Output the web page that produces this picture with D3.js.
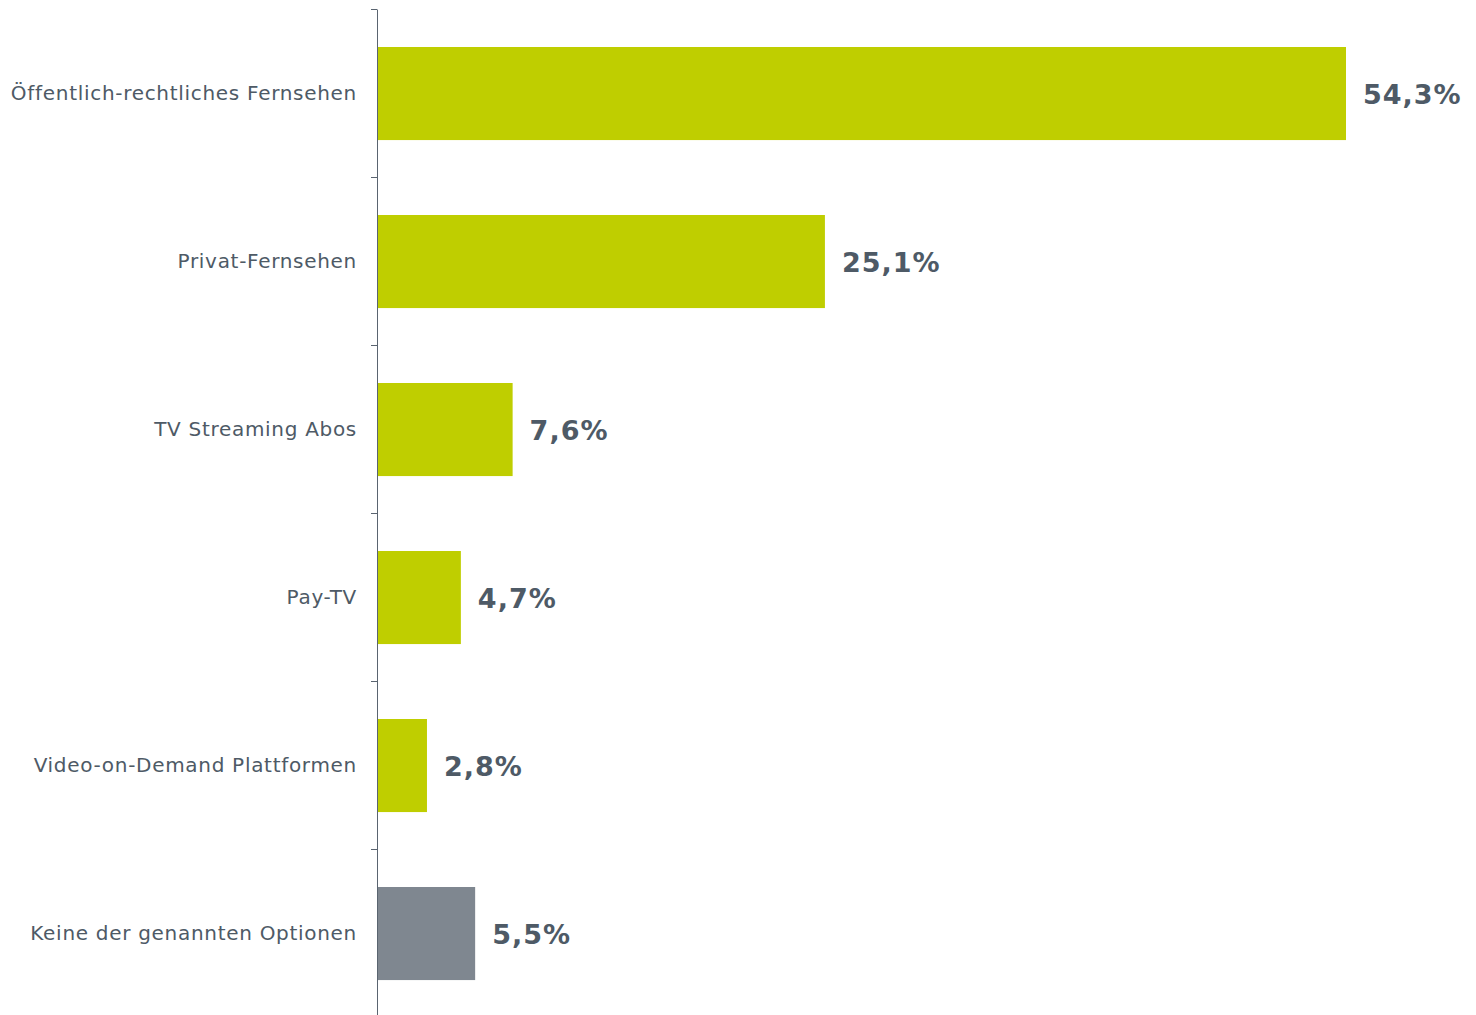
<!DOCTYPE html>
<html><head><meta charset="utf-8">
<script src="https://cdn.jsdelivr.net/npm/d3@7"></script>
<style>html,body{margin:0;padding:0;background:#fff;}svg{display:block;}</style>
</head><body>
<svg id="chart" width="1476" height="1015"></svg>
<script>
const categories = ["Öffentlich-rechtliches Fernsehen","Privat-Fernsehen","TV Streaming Abos","Pay-TV","Video-on-Demand Plattformen","Keine der genannten Optionen"];
const values = [54.3, 25.1, 7.6, 4.7, 2.8, 5.5];
const valueLabels = ["54,3%","25,1%","7,6%","4,7%","2,8%","5,5%"];
const barColors = ["#bfce00","#bfce00","#bfce00","#bfce00","#bfce00","#7f8790"];

(function(){
const svg = d3.select("#chart");
const x0 = 377, yTop = 10, yBottom = 1018;
const x = d3.scaleLinear().domain([0, 54.3]).range([x0, 1346]);
const y = d3.scaleBand().domain(categories).range([yTop, yBottom]).paddingInner(0.446).paddingOuter(0.223);
const step = y.step();
const textColor = "#4e5a66";

svg.append("line").attr("x1", x0 + 0.5).attr("x2", x0 + 0.5).attr("y1", yTop).attr("y2", 1015)
  .attr("stroke", "#5a6470").attr("stroke-width", 1);
const tickYs = categories.map(c => y(c) - step * y.paddingOuter());
tickYs.forEach(t => {
  svg.append("line").attr("x1", x0 - 6).attr("x2", x0 + 0.5).attr("y1", Math.round(t) - 0.5).attr("y2", Math.round(t) - 0.5)
    .attr("stroke", "#5a6470").attr("stroke-width", 1);
});

svg.selectAll("rect.bar").data(categories).enter().append("rect")
  .attr("x", x0 + 1).attr("y", d => Math.floor(y(d)))
  .attr("width", (d, i) => x(values[i]) - x0 - 1).attr("height", y.bandwidth())
  .attr("fill", (d, i) => barColors[i]);

svg.selectAll("text.cat").data(categories).enter().append("text")
  .attr("x", 357).attr("y", d => y(d) + y.bandwidth() / 2 - 1)
  .attr("text-anchor", "end").attr("dominant-baseline", "central")
  .attr("font-family", "DejaVu Sans, Verdana, sans-serif").attr("font-size", 20)
  .attr("letter-spacing", 0.7)
  .attr("fill", textColor).text(d => d);

svg.selectAll("text.val").data(categories).enter().append("text")
  .attr("x", (d, i) => x(values[i]) + 17).attr("y", d => y(d) + y.bandwidth() / 2)
  .attr("dominant-baseline", "central")
  .attr("font-family", "DejaVu Sans, Verdana, sans-serif").attr("font-size", 27).attr("font-weight", "bold")
  .attr("letter-spacing", 1)
  .attr("fill", textColor).text((d, i) => valueLabels[i]);
})();
</script>
</body></html>
